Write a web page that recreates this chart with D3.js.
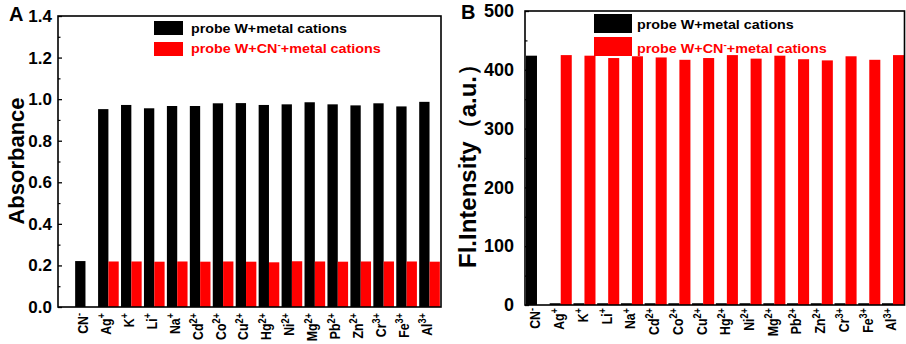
<!DOCTYPE html>
<html><head><meta charset="utf-8">
<script src="https://cdn.jsdelivr.net/npm/d3@7"></script>
<style>body{margin:0;background:#fff}svg{display:block}text{font-family:"Liberation Sans",Arial,sans-serif;font-weight:bold}</style>
</head><body><svg id="c" width="906" height="344"></svg>
<script>
const ions = ["CN","Ag","K","Li","Na","Cd","Co","Cu","Hg","Ni","Mg","Pb","Zn","Cr","Fe","Al"];
const charges = ["-","+","+","+","+","2+","2+","2+","2+","2+","2+","2+","2+","3+","3+","3+"];
const seriesNames = ["probe W+metal cations", "probe W+CN-+metal cations"];
const absBlack = [0.221,0.952,0.972,0.956,0.967,0.967,0.980,0.981,0.972,0.975,0.985,0.975,0.970,0.980,0.965,0.987];
const absRed   = [0,0.219,0.219,0.218,0.219,0.218,0.219,0.218,0.215,0.220,0.219,0.218,0.219,0.219,0.219,0.218];
const flBlack  = [424,3,3,3,3,3,3,3,3,3,3,3,3,3,3,3];
const flRed    = [0,425,424,420,423,421,417,420,425,419,424,418,416,423,417,425];
const absTicks = [0,0.2,0.4,0.6,0.8,1.0,1.2,1.4];
const flTicks  = [0,100,200,300,400,500];
const colors = ["#000000","#ff0000"];

const svg = d3.select("#c");

function panel(cfg){
  const g = svg.append("g");
  const x = d3.scaleBand().domain(ions).range([cfg.bx0, cfg.bx1]).paddingInner(cfg.pi).paddingOuter(cfg.po);
  const x2 = d3.scaleBand().domain([0,1]).range([0, x.bandwidth()]);
  const y = d3.scaleLinear().domain(cfg.dom).range([cfg.y0, cfg.y1]);
  [cfg.black, cfg.red].forEach((vals, si) => {
    g.selectAll(null).data(vals.map((v,i)=>({v, c: ions[i]}))).enter().append("rect")
      .attr("x", d => x(d.c) + x2(si)).attr("width", x2.bandwidth())
      .attr("y", d => y(d.v)).attr("height", d => y(0) - y(d.v))
      .attr("fill", colors[si]);
  });
  g.append("rect").attr("x", cfg.fx0).attr("y", cfg.y1).attr("width", cfg.fx1 - cfg.fx0).attr("height", cfg.y0 - cfg.y1)
    .attr("fill","none").attr("stroke","#000").attr("stroke-width",1.6);
  const ax = g.append("g").attr("transform", `translate(${cfg.fx0},0)`)
    .call(d3.axisRight(y).tickValues(cfg.ticks).tickSize(4).tickFormat(cfg.fmt));
  ax.select(".domain").remove();
  ax.selectAll(".tick line").attr("stroke-width",1.3);
  ax.selectAll("text").attr("x", -cfg.labGap).attr("text-anchor","end").attr("font-size", cfg.tickFs).attr("fill","#000");
  const minor = g.append("g").attr("transform", `translate(${cfg.fx0},0)`)
    .call(d3.axisRight(y).tickValues(cfg.minor).tickSize(2.5).tickFormat(""));
  minor.select(".domain").remove();
  minor.selectAll(".tick line").attr("stroke-width",1.2);
  const xl = g.selectAll(null).data(ions).enter().append("text")
    .attr("transform", d => `translate(${x(d) + x.bandwidth()/2 + cfg.lxOff},${cfg.y0 + cfg.lyOff}) rotate(-90) scale(0.82,1)`)
    .attr("text-anchor","end").attr("dy","0.36em").attr("font-size", cfg.xFs);
  xl.append("tspan").text(d => d);
  xl.append("tspan").text((d,i) => charges[i]).attr("font-size","0.75em").attr("dy","-0.5em");
  g.append("text").attr("transform", `translate(${cfg.titX},${cfg.titY}) rotate(-90)`)
    .attr("text-anchor","middle").attr("font-size", cfg.titFs).text(cfg.title);
  g.append("text").attr("x", cfg.letX).attr("y", cfg.letY).attr("font-size",20).text(cfg.letter);
  const L = cfg.leg;
  seriesNames.forEach((n, i) => {
    g.append("rect").attr("x", L.x).attr("y", L.ys[i]).attr("width", L.w).attr("height", L.h).attr("fill", colors[i]);
    const t = g.append("text").attr("font-size", 13.5).attr("fill", colors[i]);
    if (i === 0) t.text(n);
    else {
      const parts = n.split("CN-");
      t.append("tspan").text(parts[0] + "CN");
      t.append("tspan").text("-").attr("font-size","0.7em").attr("dy","-0.5em");
      t.append("tspan").text(parts[1]).attr("dy","0.35em");
    }
    const w = t.node().getBBox().width;
    t.attr("transform", `translate(${L.tx},${L.tys[i]}) scale(${L.tw[i]/w},1)`);
  });
}

panel({bx0:74, bx1:441, pi:0.1, po:0.05, fx0:58, fx1:441, dom:[0,1.4], y0:307, y1:16,
  black:absBlack, red:absRed, ticks:absTicks, minor:d3.range(0.1,1.4,0.2), fmt:d3.format(".1f"),
  labGap:6, tickFs:17, lxOff:-3, lyOff:6, xFs:15, title:"Absorbance", titX:24, titY:161, titFs:22,
  letter:"A", letX:9, letY:21,
  leg:{x:154, w:29, h:14, ys:[21,42], tx:191, tys:[33,53], tw:[156,190]}});

panel({bx0:525, bx1:905, pi:0.07, po:0.04, fx0:525, fx1:904.5, dom:[0,500], y0:305, y1:11,
  black:flBlack, red:flRed, ticks:flTicks, minor:d3.range(50,500,100), fmt:d3.format("d"),
  labGap:11, tickFs:18, lxOff:-2, lyOff:3, xFs:15, title:"Fl.Intensity（a.u.）", titX:476, titY:160, titFs:24,
  letter:"B", letX:461, letY:19,
  leg:{x:594, w:38, h:19, ys:[14,37], tx:637, tys:[29,53], tw:[157,190]}});
</script></body></html>
